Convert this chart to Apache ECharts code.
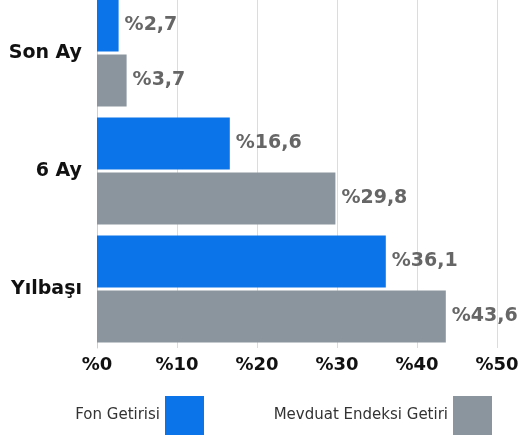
<!DOCTYPE html>
<html>
<head>
<meta charset="utf-8">
<script src="https://cdn.jsdelivr.net/npm/echarts@6/dist/echarts.min.js"></script>
<style>
  html, body { margin: 0; padding: 0; background: #fff; }
  #chart { width: 521px; height: 442px; }
</style>
</head>
<body>
<div id="chart"></div>
<script>
const categories = ["Son Ay", "6 Ay", "Yılbaşı"];
const fonValues = [2.7, 16.6, 36.1];
const mevduatValues = [3.7, 29.8, 43.6];
const seriesNames = ["Fon Getirisi", "Mevduat Endeksi Getiri"];

const font = "'DejaVu Sans', sans-serif";
const pct = (v) => "%" + String(v).replace(".", ",");

const chart = echarts.init(document.getElementById("chart"));

const barLabel = {
  show: true,
  position: "right",
  distance: 6,
  formatter: (p) => pct(p.value),
  color: "#666",
  fontFamily: font,
  fontWeight: "bold",
  fontSize: 19
};

const legendBase = {
  top: 391,
  align: "right",
  itemWidth: 39,
  itemHeight: 39,
  icon: "rect",
  textStyle: { fontFamily: font, fontSize: 15, color: "#333" }
};

const option = {
  animation: false,
  grid: { left: 97, right: 24, top: -6, bottom: 94, outerBoundsMode: "none" },
  legend: [
    Object.assign({ data: [seriesNames[0]], right: 312 }, legendBase),
    Object.assign({ data: [seriesNames[1]], right: 24 }, legendBase)
  ],
  xAxis: {
    type: "value",
    min: 0,
    max: 50,
    interval: 10,
    axisLabel: {
      formatter: (v) => "%" + v,
      color: "#111",
      fontFamily: font,
      fontWeight: "bold",
      fontSize: 18,
      margin: 8
    },
    axisLine: { show: false },
    axisTick: { show: false },
    splitLine: { lineStyle: { color: "#dcdcdc" } }
  },
  yAxis: {
    type: "category",
    data: categories,
    inverse: true,
    axisLabel: {
      color: "#111",
      fontFamily: font,
      fontWeight: "bold",
      fontSize: 19,
      margin: 15
    },
    axisLine: { show: true, lineStyle: { color: "#cfcfcf" } },
    axisTick: { show: false }
  },
  series: [
    {
      name: seriesNames[0],
      type: "bar",
      data: fonValues,
      barWidth: 52,
      barGap: "6%",
      itemStyle: { color: "#0a74e8" },
      label: barLabel
    },
    {
      name: seriesNames[1],
      type: "bar",
      data: mevduatValues,
      barWidth: 52,
      barGap: "6%",
      itemStyle: { color: "#8a959e" },
      label: barLabel
    }
  ]
};

chart.setOption(option);
</script>
</body>
</html>
